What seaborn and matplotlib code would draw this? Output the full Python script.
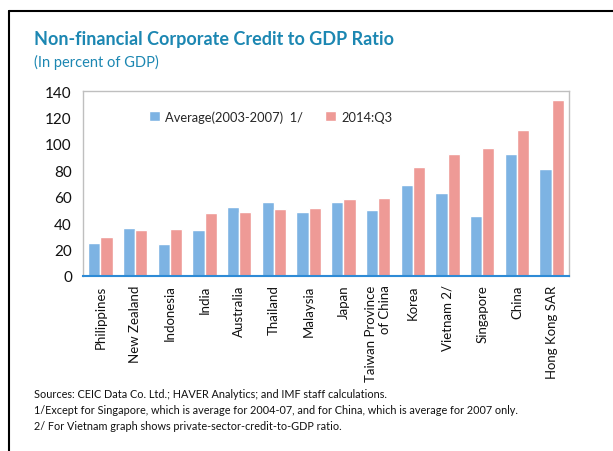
import matplotlib
matplotlib.use("Agg")
import matplotlib.pyplot as plt
import seaborn as sns
import pandas as pd
from matplotlib.lines import Line2D

countries = ["Philippines", "New Zealand", "Indonesia", "India", "Australia", "Thailand",
             "Malaysia", "Japan", "Taiwan Province\nof China", "Korea", "Vietnam 2/",
             "Singapore", "China", "Hong Kong SAR"]
avg_2003_2007 = [24.7, 36.2, 24.2, 34.6, 52.2, 56.0, 48.6, 56.0, 49.6, 68.7, 63.1, 45.6, 92.6, 80.7]
q3_2014 = [29.8, 34.9, 35.6, 47.3, 48.4, 50.9, 51.7, 58.3, 59.1, 82.2, 92.1, 97.2, 110.7, 133.4]
series_names = ["Average(2003-2007)  1/", "2014:Q3"]
yticks = [0, 20, 40, 60, 80, 100, 120, 140]

df = pd.DataFrame({
    "country": countries * 2,
    "value": avg_2003_2007 + q3_2014,
    "series": [series_names[0]] * len(countries) + [series_names[1]] * len(countries),
})

sns.set_theme(style="white")
plt.rcParams["font.family"] = ["Lato", "DejaVu Sans"]

fig = plt.figure(figsize=(6.13, 4.52), dpi=100)
ax = fig.add_axes([83 / 613, 1 - 277 / 452, (569 - 83) / 613, (277 - 92) / 452])

sns.barplot(data=df, x="country", y="value", hue="series", order=countries,
            hue_order=series_names, palette=["#7DB3E3", "#EE9A96"], width=0.7,
            edgecolor="white", linewidth=1.0, ax=ax, saturation=1)

ax.set_ylim(0, 140)
ax.set_yticks(yticks)
ax.set_xlim(-0.5, len(countries) - 0.5)
ax.set_xlabel("")
ax.set_ylabel("")
ax.tick_params(axis="y", labelsize=11, length=0, pad=8, labelcolor="#111111")
ax.tick_params(axis="x", labelsize=9.5, length=0, pad=6, labelcolor="#111111")
for lbl in ax.get_xticklabels():
    lbl.set_rotation(90)
    lbl.set_ha("center")
    lbl.set_va("top")
    lbl.set_multialignment("right")

for side in ["left", "top", "right"]:
    ax.spines[side].set_color("#BFBFBF")
    ax.spines[side].set_linewidth(1.0)
ax.spines["bottom"].set_color("#2E8BD6")
ax.spines["bottom"].set_linewidth(1.5)

ax.legend(loc="upper left", bbox_to_anchor=(0.125, 0.925), ncol=2, frameon=False,
          fontsize=9.3, handlelength=0.85, handleheight=0.85, handletextpad=0.4,
          columnspacing=1.7, borderaxespad=0)

fig.text(34 / 613, 1 - 40 / 452, "Non-financial Corporate Credit to GDP Ratio",
         fontsize=13, fontweight="bold", color="#1C87B2", va="center", ha="left")
fig.text(34 / 613, 1 - 62 / 452, "(In percent of GDP)", fontsize=10.5,
         color="#1C87B2", va="center", ha="left")

notes = ["Sources: CEIC Data Co. Ltd.; HAVER Analytics; and IMF staff calculations.",
         "1/Except for Singapore, which is average for 2004-07, and for China, which is average for 2007 only.",
         "2/ For Vietnam graph shows private-sector-credit-to-GDP ratio."]
for i, t in enumerate(notes):
    fig.text(34 / 613, 1 - (395 + i * 16) / 452, t, fontsize=7.85, color="#111111",
             va="center", ha="left")

# frame lines (left and top)
fig.add_artist(Line2D([9 / 613, 9 / 613], [0, 1 - 12 / 452], color="black", lw=1.5,
                      transform=fig.transFigure))
fig.add_artist(Line2D([9 / 613, 1], [1 - 12 / 452, 1 - 12 / 452], color="black", lw=1.5,
                      transform=fig.transFigure))

fig.savefig("out.png", dpi=100)
